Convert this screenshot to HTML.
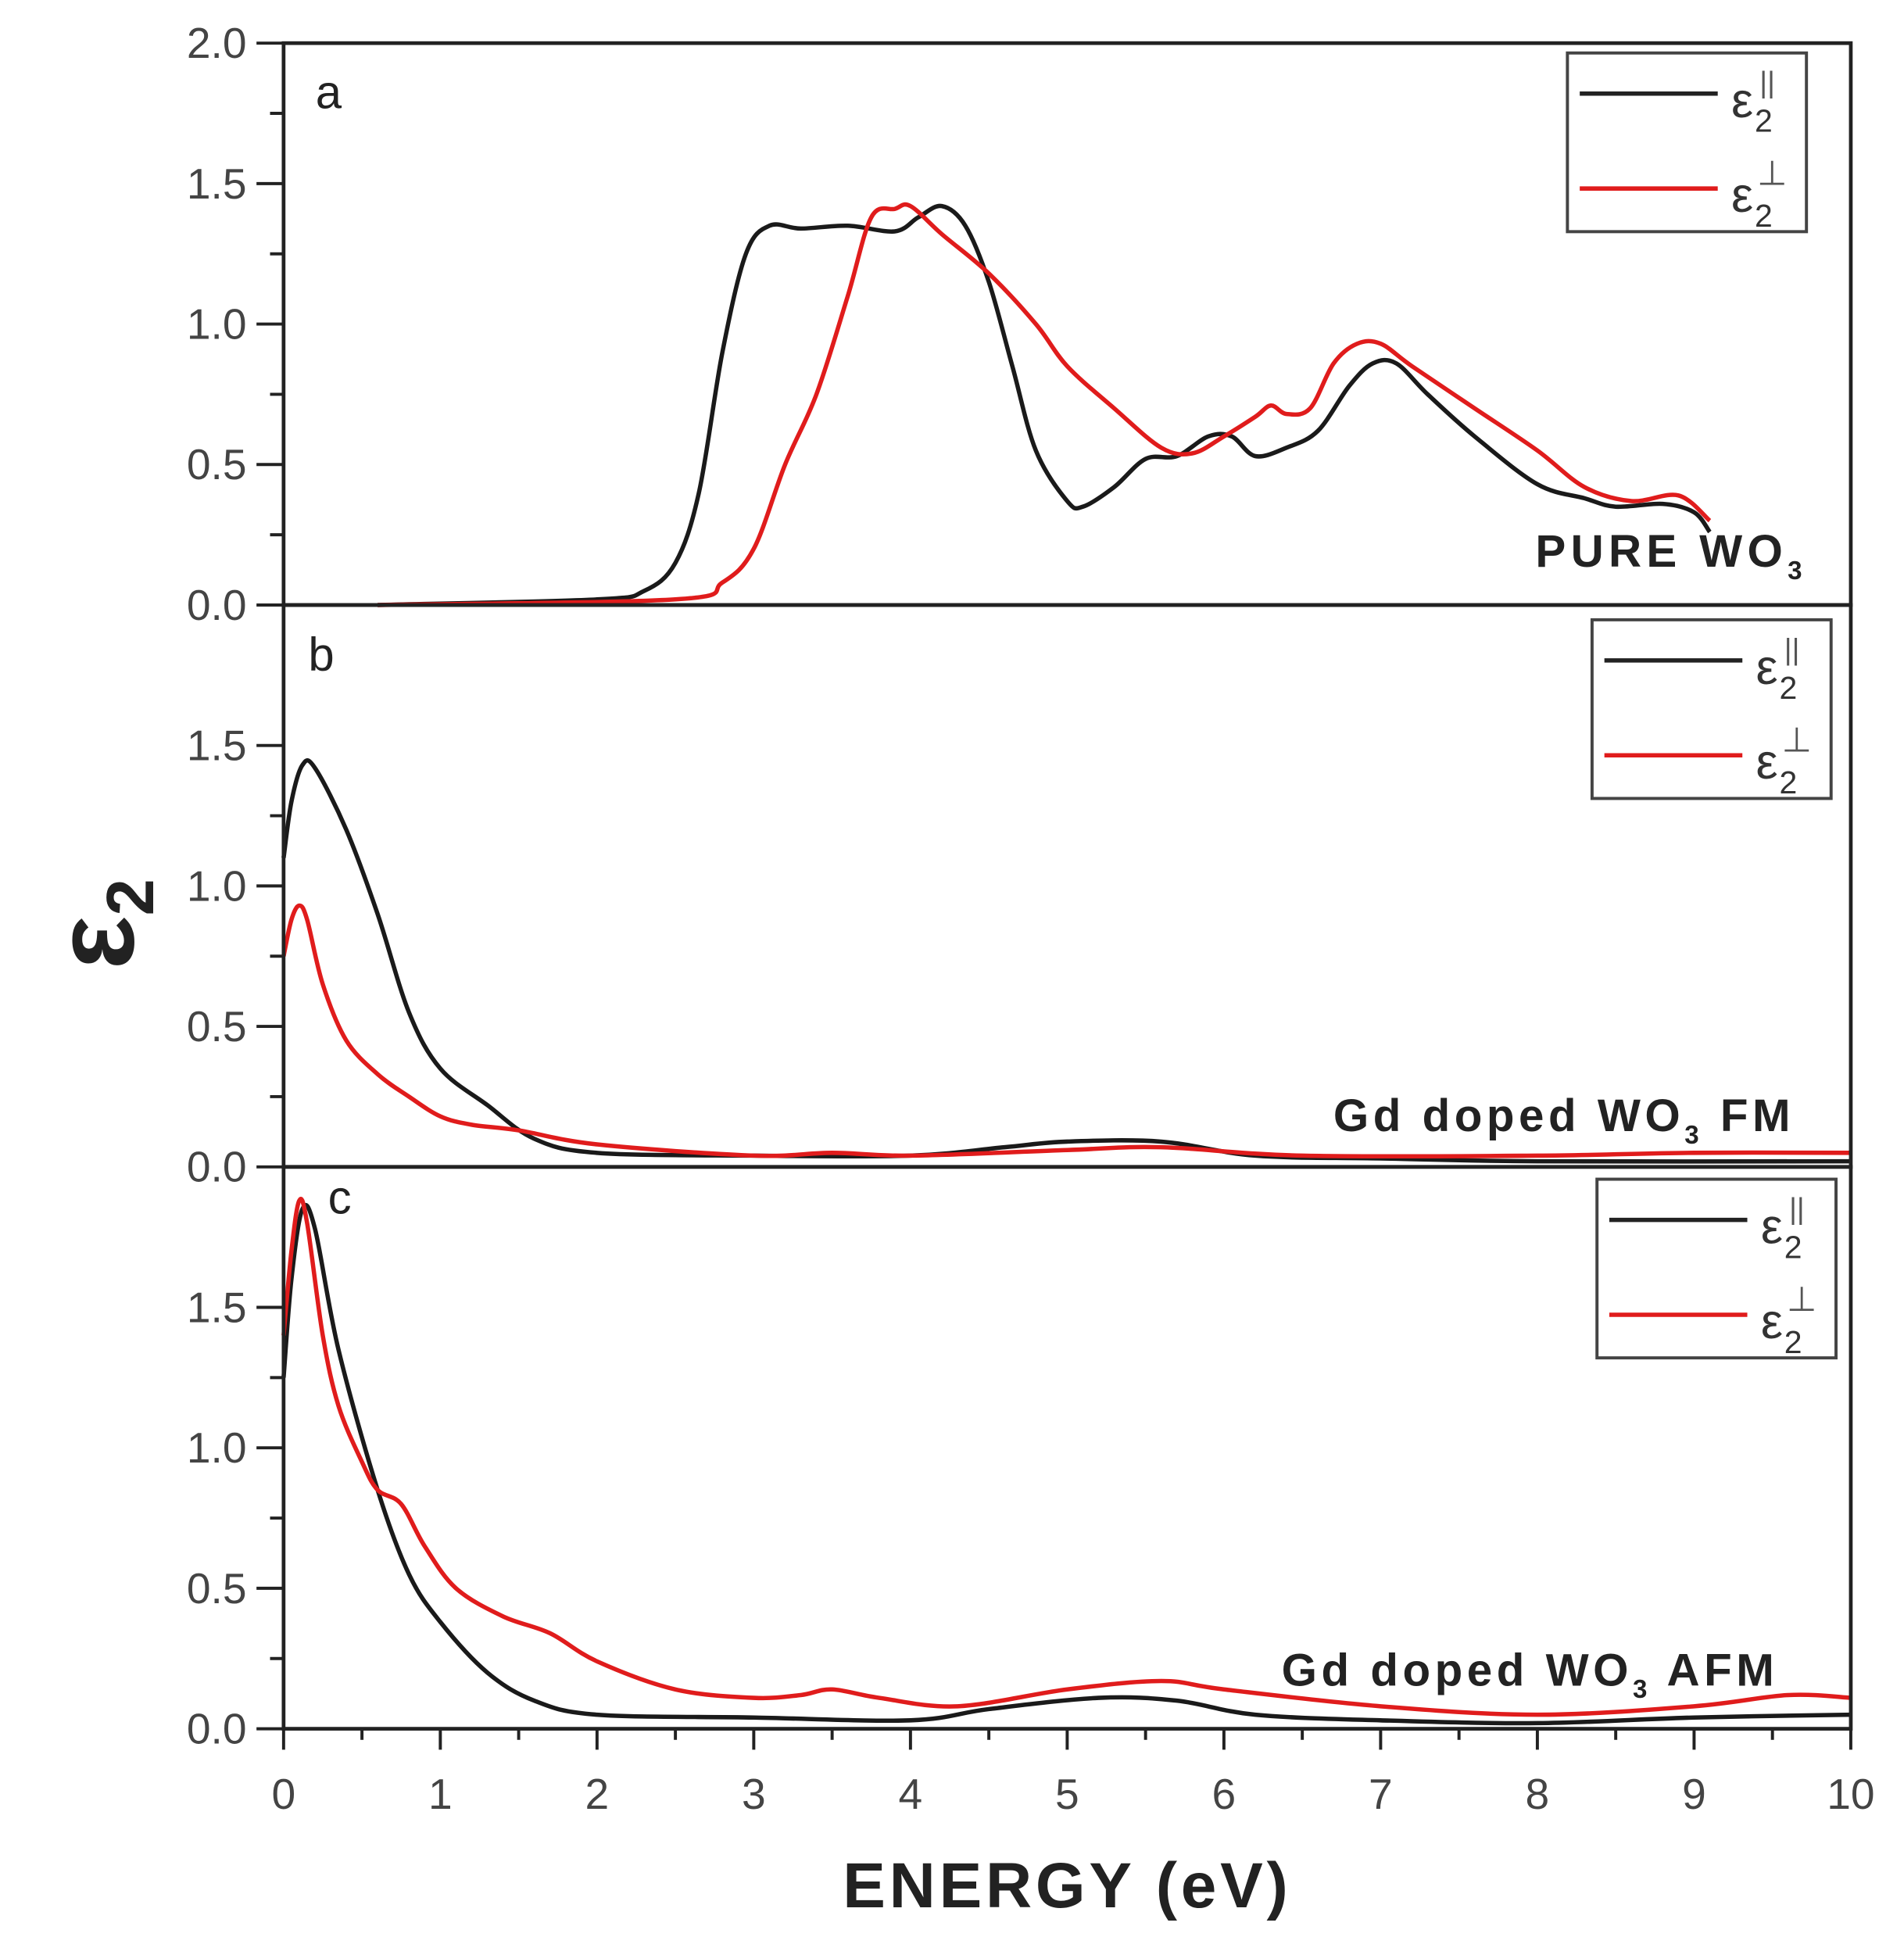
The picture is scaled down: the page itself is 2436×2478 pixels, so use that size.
<!DOCTYPE html>
<html><head><meta charset="utf-8"><style>html,body{margin:0;padding:0;background:#fff}svg{display:block}</style></head>
<body>
<svg id="s" width="2436" height="2478" viewBox="0 0 1545 1572" xmlns="http://www.w3.org/2000/svg" font-family="Liberation Sans, sans-serif">
<rect width="1545" height="1572" fill="#fff"/>
<g id="g"></g>
<text x="256" y="88" font-size="38" fill="#222">a</text>
<text x="250" y="544" font-size="38" fill="#222">b</text>
<text x="266" y="985" font-size="38" fill="#222">c</text>
<text x="1246" y="460" font-size="37" font-weight="bold" fill="#222" letter-spacing="4">PURE WO<tspan font-size="21" dy="10">3</tspan></text>
<text x="1082" y="918" font-size="37" font-weight="bold" fill="#222" letter-spacing="3.5">Gd doped WO<tspan font-size="21" dy="10">3</tspan><tspan dy="-10"> FM</tspan></text>
<text x="1040" y="1368" font-size="37" font-weight="bold" fill="#222" letter-spacing="3.5">Gd doped WO<tspan font-size="21" dy="10">3</tspan><tspan dy="-10"> AFM</tspan></text>
<text x="866" y="1548" font-size="52" font-weight="bold" fill="#222" text-anchor="middle" letter-spacing="3">ENERGY (eV)</text>
<text transform="translate(108,750) rotate(-90)" font-size="92" font-weight="bold" fill="#222" text-anchor="middle">ε<tspan font-size="54" dy="16">2</tspan></text>
</svg>
<script>
var g=document.getElementById('g'),NS='http://www.w3.org/2000/svg';
function el(t,a,txt){var e=document.createElementNS(NS,t);for(var k in a)e.setAttribute(k,a[k]);if(txt!=null)e.textContent=txt;g.appendChild(e);return e;}
var L=230,R=1502,X=function(x){return L+x*127.2;};
var panels=[{b:491,t:35,max:2.0},{b:947,t:491,max:1.5},{b:1403,t:947,max:1.5}];
function path(pts,b,col){var p=pts.map(function(q){return [X(q[0]),b-q[1]*228];});
var d='M'+p[0][0]+','+p[0][1];
for(var i=0;i<p.length-1;i++){var p0=p[i-1]||p[i],p1=p[i],p2=p[i+1],p3=p[i+2]||p2;
d+=' C'+(p1[0]+(p2[0]-p0[0])/6)+','+(p1[1]+(p2[1]-p0[1])/6)+' '+(p2[0]-(p3[0]-p1[0])/6)+','+(p2[1]-(p3[1]-p1[1])/6)+' '+p2[0]+','+p2[1];}
el('path',{d:d,fill:'none',stroke:col,'stroke-width':3.5,'stroke-linejoin':'round'});}
var data=[
[[[0.6,0],[2,0.02],[2.3,0.05],[2.5,0.15],[2.65,0.4],[2.8,0.9],[2.95,1.25],[3.1,1.35],[3.3,1.34],[3.6,1.35],[3.9,1.33],[4.05,1.38],[4.2,1.42],[4.35,1.35],[4.5,1.15],[4.65,0.85],[4.8,0.55],[5.0,0.37],[5.1,0.35],[5.3,0.42],[5.5,0.52],[5.7,0.53],[5.9,0.6],[6.05,0.6],[6.2,0.53],[6.4,0.56],[6.6,0.62],[6.8,0.78],[6.95,0.86],[7.1,0.86],[7.3,0.75],[7.6,0.6],[8.0,0.43],[8.3,0.38],[8.5,0.35],[8.8,0.36],[9.0,0.33],[9.1,0.26]],
[[0.6,0],[2.5,0.02],[2.8,0.08],[3.0,0.2],[3.2,0.5],[3.4,0.75],[3.6,1.1],[3.75,1.38],[3.9,1.41],[4.0,1.42],[4.2,1.32],[4.5,1.18],[4.8,1.0],[5.0,0.85],[5.3,0.7],[5.6,0.56],[5.8,0.54],[6.0,0.6],[6.2,0.67],[6.3,0.71],[6.4,0.68],[6.55,0.7],[6.7,0.86],[6.85,0.93],[7.0,0.93],[7.2,0.85],[7.6,0.7],[8.0,0.55],[8.3,0.42],[8.6,0.37],[8.9,0.39],[9.1,0.3]]],
[[[0,1.1],[0.05,1.3],[0.12,1.43],[0.2,1.42],[0.4,1.2],[0.6,0.9],[0.8,0.55],[1.0,0.35],[1.3,0.22],[1.6,0.1],[2,0.05],[3,0.04],[4,0.04],[4.6,0.07],[5,0.09],[5.6,0.09],[6.2,0.04],[7,0.03],[8,0.02],[10,0.02]],
[[0,0.75],[0.05,0.88],[0.1,0.93],[0.15,0.88],[0.25,0.65],[0.4,0.45],[0.6,0.33],[0.8,0.25],[1.0,0.18],[1.2,0.15],[1.5,0.13],[2,0.08],[3,0.04],[3.5,0.05],[4,0.04],[5,0.06],[5.6,0.07],[6.5,0.04],[8,0.04],[9,0.05],[10,0.05]]],
[[[0,1.25],[0.05,1.6],[0.12,1.85],[0.2,1.78],[0.35,1.35],[0.6,0.85],[0.8,0.55],[1.0,0.38],[1.3,0.2],[1.6,0.1],[2,0.05],[3,0.04],[4,0.03],[4.5,0.07],[5.2,0.11],[5.7,0.1],[6.2,0.05],[7,0.03],[8,0.02],[9,0.04],[10,0.05]],
[[0,1.4],[0.05,1.7],[0.1,1.88],[0.15,1.8],[0.25,1.4],[0.35,1.15],[0.5,0.95],[0.6,0.85],[0.75,0.8],[0.9,0.65],[1.1,0.5],[1.4,0.4],[1.7,0.34],[2,0.24],[2.5,0.14],[3,0.11],[3.3,0.12],[3.5,0.14],[3.8,0.11],[4.3,0.08],[5,0.14],[5.6,0.17],[6,0.14],[7,0.08],[8,0.05],[9,0.08],[9.6,0.12],[10,0.11]]]];
var legs=[[1272,43],[1292,503],[1296,957]];
panels.forEach(function(P,i){
 for(var v=0;v<=P.max+1e-6;v+=0.25){var y=P.b-v*228;var maj=Math.abs(v*2-Math.round(v*2))<1e-6;
  el('line',{x1:maj?208:219,x2:L,y1:y,y2:y,stroke:'#222','stroke-width':2.5});
  if(maj)el('text',{x:200,y:y+12,'font-size':35,fill:'#444','text-anchor':'end'},v.toFixed(1));}
 path(data[i][0],P.b,'#1a1a1a');path(data[i][1],P.b,'#e01c1c');
 var lx=legs[i][0],ly=legs[i][1];
 el('rect',{x:lx,y:ly,width:194,height:145,fill:'#fff',stroke:'#444','stroke-width':2.5});
 el('line',{x1:lx+10,x2:lx+122,y1:ly+33,y2:ly+33,stroke:'#222','stroke-width':3.5});
 el('line',{x1:lx+10,x2:lx+122,y1:ly+110,y2:ly+110,stroke:'#e01c1c','stroke-width':3.5});
 el('text',{x:lx+133,y:ly+52,'font-size':40,fill:'#333'},'ε');
 el('text',{x:lx+152,y:ly+64,'font-size':26,fill:'#333'},'2');
 el('text',{x:lx+156,y:ly+32,'font-size':24,fill:'#555'},'||');
 el('text',{x:lx+133,y:ly+129,'font-size':40,fill:'#333'},'ε');
 el('text',{x:lx+152,y:ly+141,'font-size':26,fill:'#333'},'2');
 el('text',{x:lx+154,y:ly+107,'font-size':28,fill:'#555'},'⊥');
 el('rect',{x:L,y:P.t,width:R-L,height:P.b-P.t,fill:'none',stroke:'#222','stroke-width':3});
});
for(var x=0;x<=10;x+=0.5){var maj=x%1==0;el('line',{x1:X(x),x2:X(x),y1:1403,y2:maj?1420:1412,stroke:'#222','stroke-width':2.5});
 if(maj)el('text',{x:X(x),y:1468,'font-size':35,fill:'#444','text-anchor':'middle'},String(x));}
</script>
</body></html>
